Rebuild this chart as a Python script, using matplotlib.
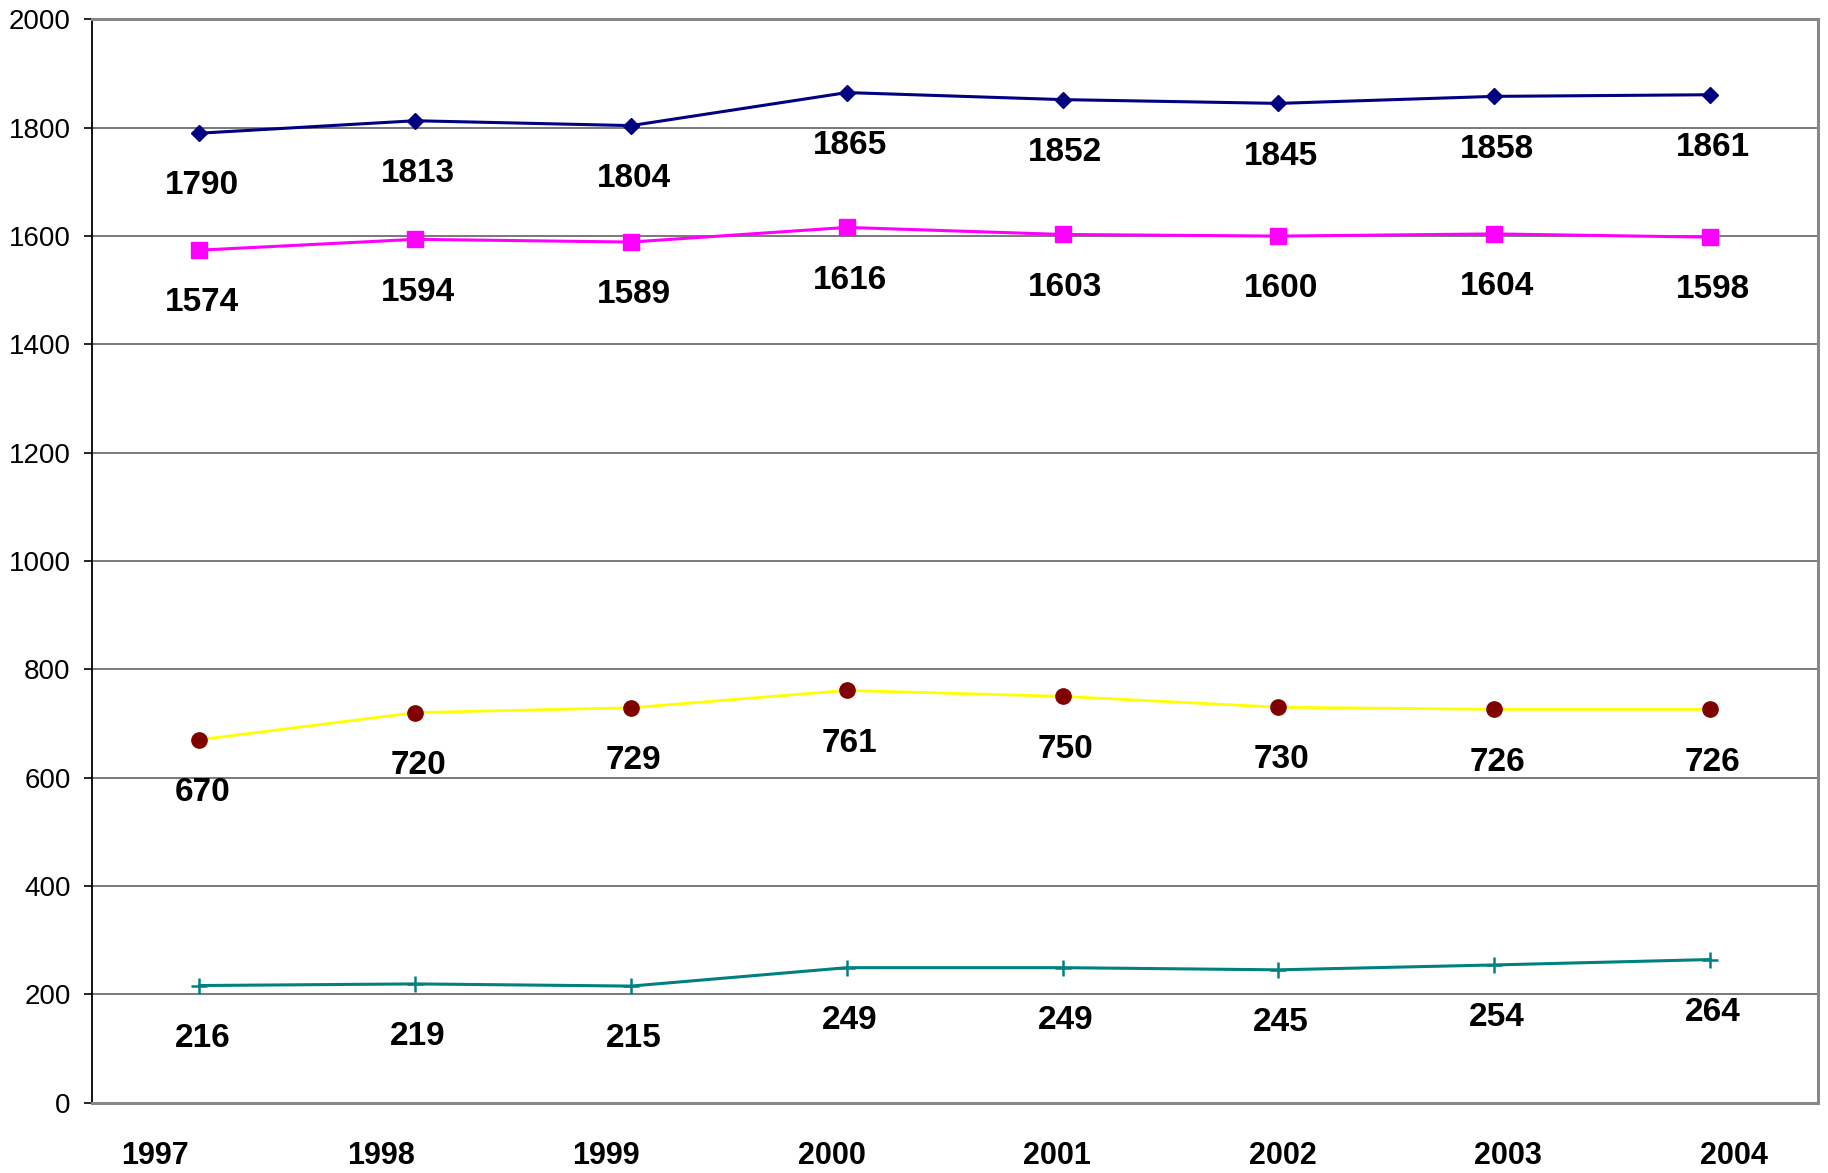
import matplotlib.pyplot as plt
import numpy as np

plt.rcParams['font.family'] = ['Liberation Sans', 'DejaVu Sans']

# số liệu theo năm
years = ['1997', '1998', '1999', '2000', '2001', '2002', '2003', '2004']
s1 = [1790, 1813, 1804, 1865, 1852, 1845, 1858, 1861]
s2 = [1574, 1594, 1589, 1616, 1603, 1600, 1604, 1598]
s3 = [670, 720, 729, 761, 750, 730, 726, 726]
s4 = [216, 219, 215, 249, 249, 245, 254, 264]

x = np.arange(len(years))

fig = plt.figure(figsize=(18.28, 11.73), dpi=100)
ax = fig.add_axes([0.0501, 0.0601, 0.9444, 0.9233])

# các đường
ax.plot(x, s1, color='#000080', lw=2.2, marker='D', ms=8.5, mfc='#000080', mec='#000080')
ax.plot(x, s2, color='#FF00FF', lw=2.2, marker='s', ms=11, mfc='#FF00FF', mec='#FF00FF')
ax.plot(x, s3, color='#FFFF00', lw=2.0, marker='o', ms=11, mfc='#800000', mec='#800000')
ax.plot(x, s4, color='#008080', lw=2.2, marker='+', ms=12, mew=1.8)

# nhãn giá trị dưới mỗi điểm
for s in [s1, s2, s3, s4]:
    for xi, v in zip(x, s):
        ax.annotate(str(v), (xi, v), xytext=(2, -38), textcoords='offset points',
                    ha='center', va='center', fontsize=24, fontweight='bold')

ax.set_xlim(-0.5, len(years) - 0.5)
ax.set_ylim(0, 2000)
ax.set_yticks(np.arange(0, 2001, 200))
ax.yaxis.grid(True, color='#555555', lw=1.1)
ax.set_axisbelow(True)

# nhãn năm dàn đều hơi lệch so với điểm
ax.set_xticks(-0.205 + 1.045 * x, years)
ax.tick_params(axis='x', length=0, pad=28, labelsize=22)
for lb in ax.get_xticklabels():
    lb.set_fontweight('bold')
ax.tick_params(axis='y', direction='out', length=6, width=1.2, pad=9, labelsize=20)

ax.spines['left'].set_color('black')
ax.spines['left'].set_linewidth(1.3)
for sp in ['top', 'right', 'bottom']:
    ax.spines[sp].set_color('#888888')
    ax.spines[sp].set_linewidth(2.2)

plt.savefig('out.png', dpi=100)
